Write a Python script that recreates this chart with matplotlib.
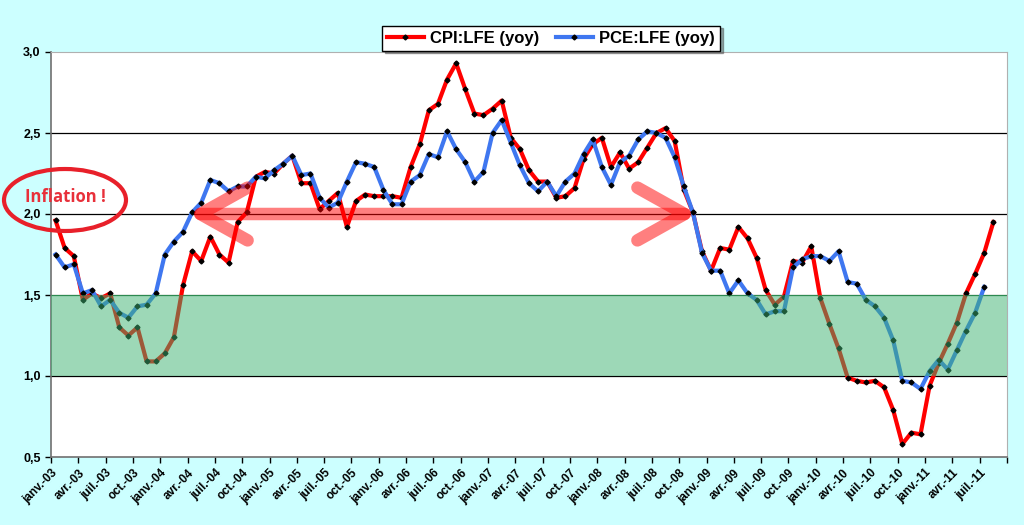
import numpy as np
import matplotlib
matplotlib.use("Agg")
import matplotlib.pyplot as plt
from matplotlib.patches import Ellipse, Rectangle

# monthly yoy core inflation, janv.-03 .. août-11 (CPI) / juil.-11 (PCE)
cpi = [1.96, 1.79, 1.74, 1.47, 1.51, 1.48, 1.51, 1.30, 1.25, 1.30, 1.09, 1.09,
       1.14, 1.24, 1.56, 1.77, 1.71, 1.86, 1.75, 1.70, 1.95, 2.01, 2.23, 2.26,
       2.25, 2.31, 2.36, 2.19, 2.19, 2.03, 2.08, 2.13, 1.92, 2.08, 2.12, 2.11,
       2.11, 2.11, 2.10, 2.29, 2.43, 2.64, 2.68, 2.83, 2.93, 2.77, 2.62, 2.61,
       2.65, 2.70, 2.47, 2.40, 2.27, 2.20, 2.20, 2.10, 2.11, 2.16, 2.34, 2.43,
       2.47, 2.29, 2.38, 2.28, 2.32, 2.41, 2.50, 2.53, 2.45, 2.15, 2.01, 1.77,
       1.65, 1.79, 1.78, 1.92, 1.85, 1.73, 1.53, 1.44, 1.49, 1.71, 1.70, 1.80,
       1.48, 1.32, 1.17, 0.99, 0.97, 0.96, 0.97, 0.93, 0.79, 0.58, 0.65, 0.64,
       0.94, 1.08, 1.20, 1.33, 1.51, 1.63, 1.76, 1.95]
pce = [1.75, 1.67, 1.69, 1.51, 1.53, 1.43, 1.47, 1.39, 1.36, 1.43, 1.44, 1.51,
       1.75, 1.83, 1.89, 2.01, 2.07, 2.21, 2.19, 2.14, 2.17, 2.17, 2.23, 2.22,
       2.27, 2.31, 2.36, 2.24, 2.25, 2.10, 2.04, 2.07, 2.20, 2.32, 2.31, 2.29,
       2.15, 2.06, 2.06, 2.20, 2.24, 2.37, 2.35, 2.51, 2.40, 2.32, 2.20, 2.26,
       2.50, 2.58, 2.44, 2.30, 2.19, 2.14, 2.20, 2.11, 2.20, 2.25, 2.37, 2.46,
       2.29, 2.18, 2.32, 2.36, 2.46, 2.51, 2.50, 2.47, 2.35, 2.17, 2.01, 1.76,
       1.65, 1.65, 1.51, 1.59, 1.51, 1.47, 1.38, 1.40, 1.40, 1.67, 1.72, 1.74,
       1.74, 1.71, 1.77, 1.58, 1.57, 1.47, 1.43, 1.36, 1.22, 0.97, 0.96, 0.92,
       1.03, 1.10, 1.04, 1.16, 1.28, 1.39, 1.55]
n_months = 105  # janv.-03 .. sept.-11 on the category axis
quarter_names = ["janv.", "avr.", "juil.", "oct."]
years = ["03", "04", "05", "06", "07", "08", "09", "10", "11"]
tick_labels = [q + "-" + y for y in years for q in quarter_names][:35]
band = (1.0, 1.5)
arrow_from, arrow_to = 15, 70  # avr.-04 -> nov.-08

fig = plt.figure(figsize=(10.24, 5.25), dpi=100, facecolor="#CCFFFF")
ax = fig.add_axes([51/1024, 1-457/525, 956/1024, 405/525])
ax.set_facecolor("white")

x_cpi = np.arange(len(cpi)) + 0.5
x_pce = np.arange(len(pce)) + 0.5
ax.plot(x_cpi, cpi, color="#FF0000", lw=3, zorder=2, label="CPI:LFE (yoy)",
        marker="D", ms=2.5, mfc="black", mec="black")
ax.plot(x_pce, pce, color="#3F77F0", lw=3, zorder=2.1, label="PCE:LFE (yoy)",
        marker="D", ms=2.5, mfc="black", mec="black")

# green target band drawn over the lines
ax.add_patch(Rectangle((0, band[0]), n_months, band[1]-band[0], facecolor="#3CB371",
                       alpha=0.5, edgecolor="none", zorder=3))

for yv in [1.0, 1.5, 2.0, 2.5]:
    ax.axhline(yv, color="black" if yv != 1.5 else "#1F5F2F", lw=0.9, zorder=1.5)

ax.annotate("", xy=(arrow_from, 2.0), xytext=(arrow_to + 1.0, 2.0),
            arrowprops=dict(arrowstyle="<->,head_length=3.4,head_width=1.9",
                            color="#FF0000", alpha=0.5, lw=9,
                            shrinkA=0, shrinkB=0, capstyle="round",
                            joinstyle="round"),
            zorder=4)

ax.set_xlim(0, n_months)
ax.set_ylim(0.5, 3.0)
ax.set_yticks([0.5, 1.0, 1.5, 2.0, 2.5, 3.0])
ax.set_yticklabels(["0,5", "1,0", "1,5", "2,0", "2,5", "3,0"],
                   fontweight="bold", fontsize=9, family="Liberation Sans")
ax.set_xticks(np.arange(0, n_months + 1, 3))
ax.set_xticklabels(tick_labels + [""], rotation=45, ha="right", va="top",
                   rotation_mode="anchor", fontweight="bold", fontsize=8.5,
                   family="Liberation Sans")
for lbl in ax.get_xticklabels():
    lbl.set_transform(lbl.get_transform() + matplotlib.transforms.ScaledTranslation(
        6/72, -2/72, fig.dpi_scale_trans))
ax.tick_params(axis="both", direction="out", length=4, width=1, colors="black")
ax.tick_params(axis="x", pad=3)
for side in ["top", "right"]:
    ax.spines[side].set_color("#B0B0B0")
for side in ["left", "bottom"]:
    ax.spines[side].set_color("#707070")
    ax.spines[side].set_linewidth(1.2)

# "Inflation !" callout
fig.patches.append(Ellipse((65/1024, 1-200/525), 122/1024, 62/525,
                           transform=fig.transFigure, fill=False,
                           edgecolor="#E8202A", lw=3, zorder=5))
fig.text(65/1024, 1-197/525, "Inflation !", color="#E8303A", fontsize=12,
         fontweight="bold", ha="center", va="center", family="Open Sans")

leg = fig.legend(loc="center", bbox_to_anchor=(551/1024, 1-38/525), ncol=2,
                 frameon=True, fancybox=False, shadow=True, handlelength=2.2,
                 columnspacing=1.0, handletextpad=0.4, borderpad=0.3,
                 prop=dict(weight="bold", size=12, family="Liberation Sans"))
leg.get_frame().set_edgecolor("black")
leg.get_frame().set_linewidth(1.0)

fig.savefig("out.png", dpi=100, facecolor=fig.get_facecolor())
